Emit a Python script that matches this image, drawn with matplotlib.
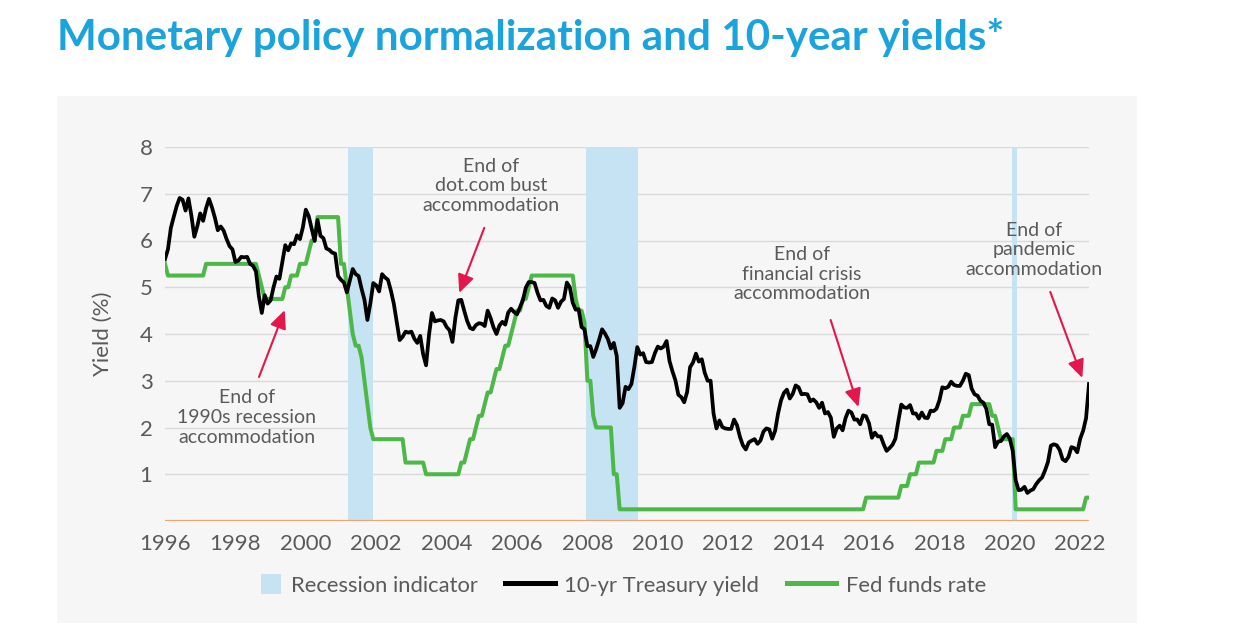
import matplotlib
matplotlib.use("Agg")
import matplotlib.pyplot as plt
from matplotlib.patches import Patch, Rectangle
from matplotlib.lines import Line2D
from matplotlib.legend_handler import HandlerPatch
import numpy as np

plt.rcParams['font.family'] = ['Lato', 'DejaVu Sans']

# ---------------- data ----------------
start_year = 1996  # monthly series start (January)

treasury_10y = [
    5.60, 5.81, 6.27, 6.51, 6.74, 6.91, 6.87, 6.64, 6.90, 6.53, 6.08, 6.30,  # 1996
    6.58, 6.42, 6.69, 6.89, 6.71, 6.49, 6.22, 6.30, 6.21, 6.03, 5.88, 5.81,  # 1997
    5.54, 5.57, 5.65, 5.64, 5.65, 5.50, 5.46, 5.34, 4.81, 4.45, 4.83, 4.65,  # 1998
    4.72, 5.00, 5.23, 5.18, 5.54, 5.90, 5.79, 5.94, 5.92, 6.11, 6.03, 6.28,  # 1999
    6.66, 6.52, 6.26, 5.99, 6.44, 6.10, 6.05, 5.83, 5.80, 5.74, 5.72, 5.24,  # 2000
    5.16, 5.10, 4.89, 5.14, 5.39, 5.28, 5.24, 4.97, 4.73, 4.30, 4.65, 5.09,  # 2001
    5.04, 4.91, 5.28, 5.21, 5.16, 4.93, 4.65, 4.26, 3.87, 3.94, 4.05, 4.03,  # 2002
    4.05, 3.90, 3.81, 3.96, 3.57, 3.33, 3.98, 4.45, 4.27, 4.29, 4.30, 4.27,  # 2003
    4.15, 4.08, 3.83, 4.35, 4.72, 4.73, 4.50, 4.28, 4.13, 4.10, 4.19, 4.23,  # 2004
    4.22, 4.17, 4.50, 4.34, 4.14, 4.00, 4.18, 4.26, 4.20, 4.46, 4.54, 4.47,  # 2005
    4.42, 4.57, 4.72, 4.99, 5.11, 5.11, 5.09, 4.88, 4.72, 4.73, 4.60, 4.56,  # 2006
    4.76, 4.72, 4.56, 4.69, 4.75, 5.10, 5.00, 4.67, 4.52, 4.53, 4.15, 4.10,  # 2007
    3.74, 3.74, 3.51, 3.68, 3.88, 4.10, 4.01, 3.89, 3.69, 3.81, 3.53, 2.42,  # 2008
    2.52, 2.87, 2.82, 2.93, 3.29, 3.72, 3.56, 3.59, 3.40, 3.39, 3.40, 3.59,  # 2009
    3.73, 3.69, 3.73, 3.85, 3.42, 3.20, 3.01, 2.70, 2.65, 2.54, 2.76, 3.29,  # 2010
    3.39, 3.58, 3.41, 3.46, 3.17, 3.00, 3.00, 2.30, 1.98, 2.15, 2.01, 1.98,  # 2011
    1.97, 1.97, 2.17, 2.05, 1.80, 1.62, 1.53, 1.68, 1.72, 1.75, 1.65, 1.72,  # 2012
    1.91, 1.98, 1.96, 1.76, 1.93, 2.30, 2.58, 2.74, 2.81, 2.62, 2.72, 2.90,  # 2013
    2.86, 2.71, 2.72, 2.71, 2.56, 2.60, 2.54, 2.42, 2.53, 2.30, 2.33, 2.21,  # 2014
    1.80, 1.98, 2.04, 1.94, 2.20, 2.36, 2.32, 2.17, 2.17, 2.07, 2.26, 2.24,  # 2015
    2.09, 1.78, 1.89, 1.81, 1.81, 1.64, 1.50, 1.56, 1.63, 1.76, 2.14, 2.49,  # 2016
    2.43, 2.42, 2.48, 2.30, 2.30, 2.19, 2.32, 2.21, 2.20, 2.36, 2.35, 2.40,  # 2017
    2.58, 2.86, 2.84, 2.87, 2.98, 2.91, 2.89, 2.89, 3.00, 3.15, 3.12, 2.83,  # 2018
    2.71, 2.68, 2.57, 2.53, 2.40, 2.07, 2.06, 1.58, 1.70, 1.71, 1.81, 1.86,  # 2019
    1.76, 1.50, 0.87, 0.66, 0.67, 0.73, 0.60, 0.65, 0.68, 0.79, 0.87, 0.93,  # 2020
    1.08, 1.26, 1.61, 1.64, 1.62, 1.52, 1.32, 1.28, 1.37, 1.58, 1.56, 1.47,  # 2021
    1.76, 1.93, 2.20, 2.93,                                                  # 2022
]

fed_funds = (
    [5.50] + [5.25] * 11 +                                               # 1996
    [5.25, 5.25] + [5.50] * 10 +                                         # 1997
    [5.50] * 8 + [5.25, 5.00, 4.75, 4.75] +                              # 1998
    [4.75] * 5 + [5.00, 5.00, 5.25, 5.25, 5.25, 5.50, 5.50] +            # 1999
    [5.50, 5.75, 6.00, 6.00] + [6.50] * 8 +                              # 2000
    [5.50, 5.50, 5.00, 4.50, 4.00, 3.75, 3.75, 3.50, 3.00, 2.50, 2.00, 1.75] +  # 2001
    [1.75] * 10 + [1.25, 1.25] +                                         # 2002
    [1.25] * 5 + [1.00] * 7 +                                            # 2003
    [1.00] * 5 + [1.25, 1.25, 1.50, 1.75, 1.75, 2.00, 2.25] +            # 2004
    [2.25, 2.50, 2.75, 2.75, 3.00, 3.25, 3.25, 3.50, 3.75, 3.75, 4.00, 4.25] +  # 2005
    [4.50, 4.50, 4.75, 4.75, 5.00] + [5.25] * 7 +                        # 2006
    [5.25] * 8 + [4.75, 4.50, 4.50, 4.25] +                              # 2007
    [3.00, 3.00, 2.25, 2.00, 2.00, 2.00, 2.00, 2.00, 2.00, 1.00, 1.00, 0.25] +  # 2008
    [0.25] * 72 +                                                        # 2009-2014
    [0.25] * 11 + [0.50] +                                               # 2015
    [0.50] * 11 + [0.75] +                                               # 2016
    [0.75, 0.75, 1.00, 1.00, 1.00] + [1.25] * 6 + [1.50] +               # 2017
    [1.50, 1.50, 1.75, 1.75, 1.75, 2.00, 2.00, 2.00, 2.25, 2.25, 2.25, 2.50] +  # 2018
    [2.50] * 6 + [2.25, 2.25, 2.00, 1.75, 1.75, 1.75] +                  # 2019
    [1.75, 1.75] + [0.25] * 10 +                                         # 2020
    [0.25] * 12 +                                                        # 2021
    [0.25, 0.25, 0.50, 0.50]                                             # 2022
)

recessions = [(2001.2, 2001.9), (2007.95, 2009.45), (2020.05, 2020.2)]
x_ticks = list(range(1996, 2023, 2))
y_ticks = [1, 2, 3, 4, 5, 6, 7, 8]

annotations = [
    ("End of\n1990s recession\naccommodation", (1998.32, 2.22), (1998.67, 3.08), (1999.40, 4.51)),
    ("End of\ndot.com bust\naccommodation", (2005.27, 7.17), (2005.07, 6.27), (2004.36, 4.88)),
    ("End of\nfinancial crisis\naccommodation", (2014.09, 5.28), (2014.91, 4.30), (2015.70, 2.44)),
    ("End of\npandemic\naccommodation", (2020.69, 5.80), (2021.15, 4.90), (2022.06, 3.06)),
]

# ---------------- styling ----------------
W, H = 1233, 623
BLUE_TITLE = '#1ba3dd'
BAND = '#c6e3f3'
GREEN = '#4cb848'
ORANGE = '#f2a46e'
RED = '#e3174b'
TXT = '#5a5a5a'

fig = plt.figure(figsize=(W / 100, H / 100), dpi=100)
fig.patch.set_facecolor('white')

# gray panel behind chart
panel = Rectangle((57 / W, 0), (1137 - 57) / W, (623 - 96) / H,
                  transform=fig.transFigure, facecolor='#f6f6f6', edgecolor='none', zorder=-10)
fig.patches.append(panel)

ax = fig.add_axes([165 / W, 1 - 521 / H, (1089 - 165) / W, (521 - 147) / H])
ax.set_facecolor('none')
ax.set_zorder(2)

months = np.arange(len(treasury_10y))
t_yield = start_year + months / 12.0
t_ff = start_year + np.arange(len(fed_funds)) / 12.0

for y in y_ticks:
    ax.axhline(y, color='#d9d9d9', lw=1.0, zorder=1)

for a, b in recessions:
    ax.axvspan(a, b, color=BAND, lw=0, zorder=2)

ax.axhline(0, color=ORANGE, lw=1.6, zorder=3)

ax.plot(t_ff, fed_funds, color=GREEN, lw=2.9, zorder=4, solid_joinstyle='round')
ax.plot(t_yield, treasury_10y, color='black', lw=2.7, zorder=5, solid_joinstyle='round')

ax.set_xlim(1996.05, 2022.25)
ax.set_ylim(0, 8)
ax.set_xticks(x_ticks)
ax.set_xticklabels([str(v) for v in x_ticks])
ax.set_yticks(y_ticks)
ax.set_yticklabels([str(v) for v in y_ticks])
ax.tick_params(axis='both', length=0, labelsize=16, colors=TXT)
ax.tick_params(axis='x', pad=9)
ax.tick_params(axis='y', pad=9)
for s in ax.spines.values():
    s.set_visible(False)

ax.set_ylabel('Yield (%)', fontsize=16, color=TXT, labelpad=19)

for text, tpos, tail, head in annotations:
    ax.text(tpos[0], tpos[1], text, ha='center', va='center', fontsize=14,
            color=TXT, linespacing=1.2, zorder=6)
    ax.annotate('', xy=head, xytext=tail,
                arrowprops=dict(arrowstyle='-|>,head_length=0.55,head_width=0.25',
                                color=RED, lw=1.5, mutation_scale=20,
                                shrinkA=0, shrinkB=0), zorder=6)


def square_patch(legend, orig_handle, xdescent, ydescent, width, height, fontsize):
    s = 0.9 * fontsize
    return Rectangle((width - xdescent - s, -ydescent + (height - s) / 2), s, s)


handles = [Patch(facecolor=BAND, edgecolor='none'),
           Line2D([0], [0], color='black', lw=3.6),
           Line2D([0], [0], color=GREEN, lw=3.6)]
labels = ['Recession indicator', '10-yr Treasury yield', 'Fed funds rate']
leg = fig.legend(handles, labels, loc='center', bbox_to_anchor=(609 / W, 1 - 585 / H),
                 ncol=3, frameon=False, fontsize=15.8, handlelength=2.25, handleheight=1.0,
                 columnspacing=1.25, handletextpad=0.45,
                 handler_map={Patch: HandlerPatch(patch_func=square_patch)})
for txt in leg.get_texts():
    txt.set_color(TXT)

# title, fitted to reference width
title = fig.text(57 / W, 1 - 50 / H, 'Monetary policy normalization and 10-year yields*',
                 fontsize=30, fontweight='bold', color=BLUE_TITLE, ha='left', va='baseline')
fig.canvas.draw()
r = fig.canvas.get_renderer()
w = title.get_window_extent(renderer=r).width
title.set_fontsize(30 * (1003 - 57) / w)

fig.savefig('out.png', dpi=100, facecolor='white')
